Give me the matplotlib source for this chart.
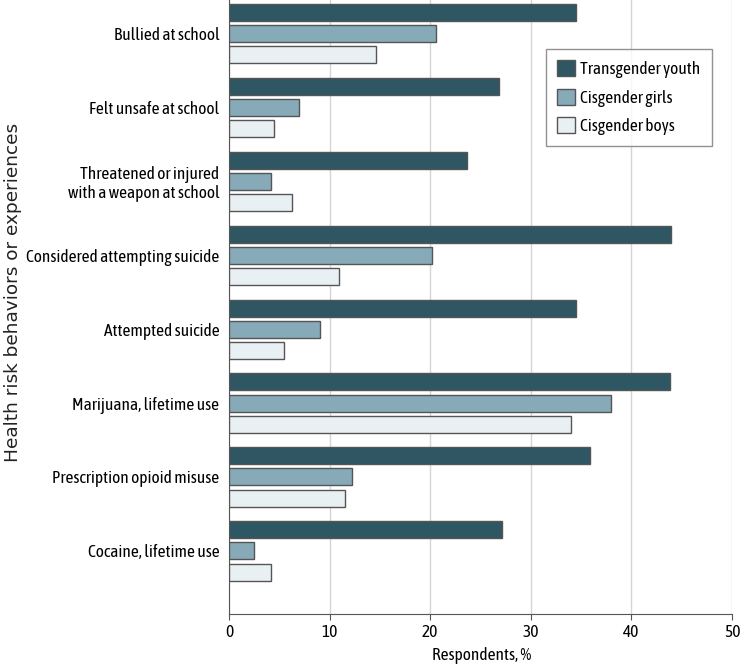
import matplotlib
matplotlib.use("Agg")
import matplotlib.pyplot as plt
import numpy as np

# Data
categories = ["Bullied at school", "Felt unsafe at school",
              "Threatened or injured\nwith a weapon at school",
              "Considered attempting suicide", "Attempted suicide",
              "Marijuana, lifetime use", "Prescription opioid misuse",
              "Cocaine, lifetime use"]
transgender = [34.5, 26.8, 23.7, 43.9, 34.5, 43.8, 35.9, 27.1]
cis_girls = [20.6, 7.0, 4.2, 20.2, 9.0, 38.0, 12.2, 2.5]
cis_boys = [14.6, 4.5, 6.3, 10.9, 5.5, 34.0, 11.5, 4.2]
series_names = ["Transgender youth", "Cisgender girls", "Cisgender boys"]
colors = ["#2e5663", "#87aab9", "#e8f0f3"]

narrow = "Asap Condensed"
fs = 12.5

fig = plt.figure(figsize=(7.41, 6.65), dpi=100)
ax = fig.add_axes([0.309, 0.077, 0.679, 0.923])

y = np.arange(len(categories))
h = 0.23
step = 0.285
for i, (vals, name, c) in enumerate(zip([transgender, cis_girls, cis_boys], series_names, colors)):
    ax.barh(y + (i - 1) * step, vals, h, color=c, edgecolor="#555555",
            linewidth=1.0, label=name, zorder=3)

ax.set_xlim(0, 50)
ax.set_ylim(7.85, -0.45)
ax.set_xticks([0, 10, 20, 30, 40, 50])
ax.set_yticks(y)
ax.set_yticklabels(categories, fontfamily=narrow, fontsize=fs, linespacing=1.15)
ax.tick_params(axis="y", length=0, pad=7)
ax.tick_params(axis="x", length=4, color="#555555", labelsize=fs, pad=3)
for lab in ax.get_xticklabels():
    lab.set_fontfamily(narrow)
ax.grid(axis="x", color="#d5d5d5", linewidth=1, zorder=0)
for s in ["top", "right"]:
    ax.spines[s].set_visible(False)
ax.spines["left"].set_color("#555555")
ax.spines["bottom"].set_color("#555555")

fig.text(0.65, 0.014, "Respondents, %", ha="center", va="center",
         fontfamily=narrow, fontsize=fs)
fig.text(0.017, 0.56, "Health risk behaviors or experiences", rotation=90,
         ha="center", va="center", fontsize=13.3, fontfamily="DejaVu Sans", color="#222222")

leg = ax.legend(loc="upper right", bbox_to_anchor=(0.960, 0.920), prop={"family": narrow, "size": fs},
                frameon=True, fancybox=False, edgecolor="#777777", handlelength=1.05,
                handleheight=1.05, borderpad=0.65, labelspacing=0.6, handletextpad=0.3,
                borderaxespad=0)
leg.get_frame().set_linewidth(1.0)

fig.savefig("out.png", dpi=100)
